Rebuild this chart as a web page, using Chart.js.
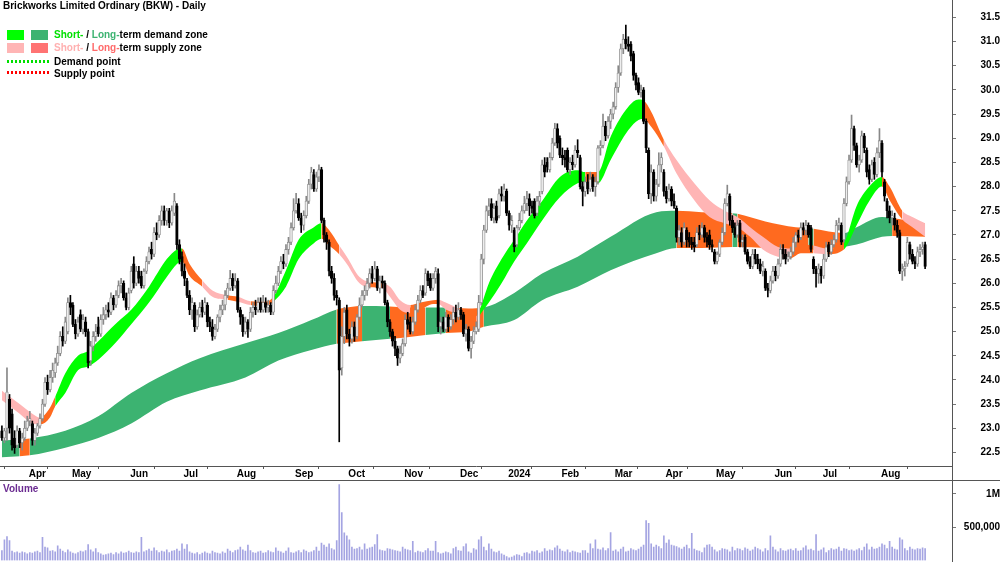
<!DOCTYPE html>
<html>
<head>
<meta charset="utf-8">
<script src="https://cdn.jsdelivr.net/npm/chart.js@4.4.1/dist/chart.umd.min.js"></script>
<style>
  body { margin: 0; background: #fff; }
  #wrap { position: relative; width: 1000px; height: 562px; overflow: hidden; font-family: "Liberation Sans", Arial, sans-serif; }
  .abs { position: absolute; }
  .t { position: absolute; font-size: 10px; font-weight: bold; line-height: 12px; white-space: nowrap; color: #000; }
  .box { position: absolute; width: 17px; height: 10px; }
  .dots { position: absolute; left: 7px; width: 42px; height: 3px; }
</style>
</head>
<body>
<div id="wrap">
  <div class="abs" style="left:0;top:0;width:1000px;height:481px"><canvas id="price" width="1000" height="481"></canvas></div>
  <div class="abs" style="left:0;top:482px;width:1000px;height:80px"><canvas id="vol" width="1000" height="80"></canvas></div>
  <div class="abs" style="left:0;top:480px;width:1000px;height:1px;background:#555"></div>
  <div class="abs" style="left:952px;top:0;width:1px;height:562px;background:#555"></div>

  <div class="t" style="left:3px;top:0px">Brickworks Limited Ordinary (BKW) - Daily</div>
  <div class="box" style="left:7px;top:30px;background:#00ff00"></div>
  <div class="box" style="left:31px;top:30px;background:#3cb371"></div>
  <div class="t" style="left:54px;top:29px"><span style="color:#00e000">Short-</span> / <span style="color:#3cb371">Long-</span>term demand zone</div>
  <div class="box" style="left:7px;top:43px;background:#ffb5b5"></div>
  <div class="box" style="left:31px;top:43px;background:#ff7373"></div>
  <div class="t" style="left:54px;top:42px"><span style="color:#ffb0b0">Short-</span> / <span style="color:#ff6a6a">Long-</span>term supply zone</div>
  <div class="dots" style="top:60px;background:repeating-linear-gradient(90deg,#00e000 0px,#00e000 2px,#fff 2px,#fff 4px)"></div>
  <div class="t" style="left:54px;top:56px">Demand point</div>
  <div class="dots" style="top:71px;background:repeating-linear-gradient(90deg,#ff0000 0px,#ff0000 2px,#fff 2px,#fff 4px)"></div>
  <div class="t" style="left:54px;top:68px">Supply point</div>
  <div class="t" style="left:3px;top:483px;color:#6b2c91">Volume</div>
</div>

<script>
// daily candles, 20 Mar 2023 .. 27 Aug 2024 (trading days)
const open = [
  22.95,22.8,23.0,23.6,23.3,22.8,22.65,22.95,22.7,22.8,
  23.0,23.15,23.1,22.75,22.9,23.05,23.2,23.5,23.95,23.8,
  24.05,24.15,24.35,24.55,24.9,24.8,25.0,25.6,25.55,25.15,
  24.95,25.35,25.05,25.2,25.0,24.4,24.7,24.9,25.1,24.95,
  25.25,25.35,25.45,25.4,25.7,25.55,25.75,25.95,26.0,25.7,
  25.5,25.85,26.4,26.0,26.25,26.15,25.95,26.25,26.45,26.7,
  26.6,27.05,27.0,27.3,27.5,27.3,27.5,27.25,27.45,27.6,
  26.8,26.55,26.25,26.05,25.75,25.45,25.55,25.1,25.35,25.5,
  25.4,25.55,25.2,25.1,24.9,25.05,25.3,25.45,25.55,25.75,
  25.9,26.1,25.95,26.05,25.45,25.3,25.0,25.2,25.05,25.4,
  25.5,25.45,25.6,25.45,25.6,25.5,25.55,25.4,25.85,26.0,
  26.25,26.45,26.4,26.7,26.85,27.15,27.5,27.65,27.35,27.2,
  27.4,27.7,28.05,28.25,27.95,28.2,28.35,27.3,27.0,26.85,
  26.25,26.1,25.75,25.65,24.25,24.9,25.45,24.95,24.85,25.1,
  24.9,25.3,25.55,25.75,25.85,26.0,26.2,26.1,26.3,25.9,
  26.05,26.0,25.6,25.2,25.0,24.8,24.65,24.45,24.55,24.75,
  25.25,25.2,25.0,25.2,25.45,25.65,25.85,25.8,26.2,26.1,
  25.9,26.1,26.2,25.1,25.2,25.05,25.3,25.1,25.25,25.4,
  25.3,25.45,25.35,24.95,25.05,24.65,24.8,25.0,25.05,25.6,
  26.5,27.1,27.5,27.65,27.35,27.6,27.4,27.85,27.8,27.9,
  27.45,27.2,27.1,26.8,27.15,27.3,27.5,27.65,27.75,27.6,
  27.7,27.45,27.7,27.9,28.45,28.5,28.35,28.6,28.9,29.2,
  29.0,28.65,28.6,28.75,28.35,28.5,28.45,28.75,28.6,28.0,
  27.9,28.1,27.95,28.2,28.0,28.1,28.8,28.85,29.25,29.05,
  29.35,29.5,29.65,30.05,30.35,30.85,31.05,30.95,30.95,30.75,
  30.3,30.15,29.95,30.0,29.35,28.75,27.85,28.3,27.8,28.05,
  28.45,28.3,27.9,27.75,27.95,27.7,27.55,26.95,27.05,26.85,
  27.1,26.95,26.85,26.85,26.8,27.05,27.0,27.15,26.95,27.0,
  26.8,26.65,26.45,26.6,26.85,27.05,27.65,27.8,27.3,27.15,
  27.0,27.25,26.85,26.95,26.65,26.45,26.35,26.6,26.5,26.4,
  26.25,26.25,25.9,25.85,26.05,26.25,26.15,26.4,26.7,26.6,
  26.5,26.55,26.65,26.85,27.0,26.95,27.15,27.1,27.2,27.15,
  26.5,26.3,26.2,26.3,26.15,26.5,26.8,26.65,26.8,26.9,
  27.2,27.2,26.9,27.65,28.1,28.55,29.2,28.85,28.45,28.55,
  29.05,28.75,28.35,28.15,28.5,28.25,28.7,28.9,28.1,27.7,
  27.5,27.35,27.35,27.2,27.05,26.25,26.3,26.4,26.8,26.6,
  26.45,26.4,26.65,26.7,26.8
];
const high = [
  23.05,23.0,24.25,23.7,23.4,22.95,23.05,23.0,22.9,23.15,
  23.25,23.35,23.15,23.0,23.1,23.3,23.6,24.05,24.1,24.2,
  24.35,24.45,24.7,25.0,25.1,25.3,25.7,25.75,25.6,25.25,
  25.3,25.45,25.35,25.3,25.05,24.8,25.0,25.15,25.3,25.35,
  25.5,25.55,25.6,25.8,25.75,25.85,26.05,26.1,26.05,25.8,
  25.9,26.35,26.55,26.35,26.35,26.25,26.3,26.55,26.75,26.85,
  27.15,27.25,27.4,27.6,27.6,27.55,27.55,27.6,27.86,27.65,
  26.9,26.65,26.4,26.1,25.85,25.7,25.6,25.45,25.6,25.65,
  25.7,25.6,25.3,25.25,25.15,25.35,25.55,25.65,25.85,26.0,
  26.27,26.2,26.2,26.1,25.5,25.35,25.3,25.25,25.5,25.6,
  25.65,25.7,25.7,25.75,25.7,25.65,25.6,25.95,26.15,26.35,
  26.55,26.6,26.8,26.95,27.25,27.75,27.86,27.75,27.45,27.5,
  27.8,28.15,28.4,28.35,28.3,28.45,28.4,27.35,27.05,26.9,
  26.35,26.2,25.85,25.7,25.1,25.5,25.55,25.05,25.2,25.2,
  25.35,25.7,25.85,25.95,26.1,26.3,26.35,26.45,26.35,26.15,
  26.15,26.05,25.65,25.25,25.05,24.9,24.7,24.7,24.85,25.35,
  25.4,25.3,25.3,25.55,25.75,25.95,25.95,26.3,26.25,26.2,
  26.2,26.33,26.3,25.3,25.3,25.4,25.35,25.35,25.5,25.55,
  25.6,25.5,25.4,25.15,25.1,24.9,25.1,25.2,25.75,26.6,
  27.2,27.6,27.75,27.75,27.65,27.7,27.95,28.0,28.05,27.95,
  27.5,27.4,27.15,27.2,27.45,27.6,27.8,27.9,27.85,27.7,
  27.75,27.8,27.9,28.55,28.6,28.6,28.7,29.0,29.31,29.3,
  29.05,28.8,28.75,28.8,28.6,28.65,28.85,28.97,28.65,28.1,
  28.2,28.25,28.3,28.25,28.2,28.85,28.95,29.5,29.35,29.45,
  29.6,29.75,30.15,30.5,30.95,31.15,31.34,31.1,31.0,30.8,
  30.35,30.25,30.1,30.05,29.4,28.8,28.45,28.35,28.15,28.7,
  28.7,28.35,28.0,28.05,28.0,27.85,27.6,27.2,27.15,27.25,
  27.15,27.05,26.95,26.95,27.15,27.2,27.25,27.2,27.05,27.1,
  26.9,26.7,26.65,26.9,27.15,27.75,28.03,27.85,27.4,27.25,
  27.3,27.3,27.0,27.0,26.7,26.55,26.7,26.7,26.6,26.5,
  26.45,26.3,26.0,26.15,26.35,26.35,26.5,26.8,26.8,26.7,
  26.65,26.75,26.95,27.05,27.1,27.25,27.25,27.3,27.25,27.2,
  26.55,26.35,26.4,26.35,26.6,26.85,26.85,26.9,27.0,27.3,
  27.35,27.25,27.75,28.2,28.65,29.48,29.25,28.9,28.65,29.15,
  29.1,28.8,28.45,28.55,28.6,28.8,29.2,28.95,28.15,27.75,
  27.6,27.5,27.45,27.3,27.1,26.4,26.45,26.95,26.85,26.7,
  26.55,26.75,26.8,26.85,26.85
];
const low = [
  22.75,22.7,22.75,22.9,22.55,22.48,22.6,22.6,22.55,22.75,
  22.95,23.05,22.65,22.65,22.85,23.0,23.15,23.45,23.7,23.75,
  23.95,24.05,24.3,24.5,24.7,24.75,24.95,25.35,25.1,24.85,
  24.9,25.0,24.95,24.9,24.25,24.3,24.6,24.8,24.9,24.9,
  25.15,25.25,25.3,25.35,25.45,25.5,25.7,25.8,25.65,25.45,
  25.45,25.8,25.9,25.95,26.0,25.9,25.9,26.2,26.4,26.5,
  26.55,26.9,26.95,27.2,27.2,27.2,27.15,27.2,27.4,26.7,
  26.4,26.15,25.95,25.7,25.35,25.25,25.0,25.05,25.3,25.3,
  25.35,25.1,25.0,24.82,24.85,25.0,25.2,25.35,25.45,25.7,
  25.85,25.85,25.9,25.4,25.15,24.9,24.95,24.88,25.0,25.3,
  25.35,25.4,25.4,25.4,25.4,25.4,25.35,25.35,25.8,25.95,
  26.2,26.3,26.35,26.6,26.8,27.1,27.45,27.3,27.05,27.1,
  27.35,27.65,27.95,27.9,27.9,28.1,27.25,26.85,26.7,26.15,
  26.0,25.65,25.55,22.72,24.1,24.75,24.85,24.7,24.76,24.8,
  24.85,25.25,25.5,25.65,25.75,25.9,26.0,26.05,25.85,25.8,
  25.9,25.55,25.1,24.9,24.7,24.5,24.3,24.35,24.5,24.7,
  25.05,24.95,24.95,25.15,25.4,25.6,25.7,25.75,25.95,25.85,
  25.85,26.0,25.0,24.95,25.0,25.0,25.0,25.05,25.15,25.2,
  25.25,25.25,24.9,24.8,24.6,24.45,24.75,24.95,25.0,25.55,
  26.4,27.05,27.4,27.3,27.25,27.25,27.35,27.7,27.7,27.4,
  27.1,27.05,26.65,26.75,27.1,27.25,27.45,27.5,27.4,27.45,
  27.35,27.4,27.6,27.85,28.2,28.3,28.3,28.55,28.85,28.8,
  28.6,28.45,28.4,28.3,28.25,28.35,28.4,28.6,27.95,27.6,
  27.8,27.85,27.9,27.9,27.8,28.05,28.65,28.8,28.95,29.0,
  29.2,29.4,29.6,29.95,30.3,30.75,30.85,30.8,30.6,30.2,
  30.0,29.9,29.85,29.3,28.7,27.75,27.65,27.7,27.7,28.0,
  28.3,27.8,27.66,27.7,27.6,27.55,26.85,26.8,26.75,26.8,
  26.75,26.75,26.7,26.65,26.75,26.9,26.95,26.85,26.75,26.7,
  26.65,26.4,26.4,26.55,26.8,27.0,27.6,27.2,27.05,26.95,
  26.95,26.75,26.75,26.6,26.4,26.3,26.3,26.4,26.3,26.2,
  26.15,25.85,25.72,25.8,26.0,26.05,26.1,26.35,26.5,26.4,
  26.45,26.5,26.6,26.75,26.85,26.9,27.0,27.0,26.95,26.65,
  26.2,25.92,26.0,26.0,26.1,26.45,26.55,26.6,26.75,26.85,
  27.1,26.8,26.85,27.6,28.05,28.5,28.75,28.4,28.3,28.5,
  28.7,28.2,28.05,28.1,28.15,28.2,28.6,28.2,27.7,27.35,
  27.25,27.2,27.1,26.95,26.2,26.06,26.15,26.35,26.5,26.4,
  26.3,26.35,26.55,26.6,26.3
];
const close = [
  22.8,22.95,23.75,23.0,22.65,22.6,22.95,22.7,22.8,23.0,
  23.15,23.2,22.75,22.9,23.05,23.2,23.5,23.95,23.8,24.05,
  24.2,24.35,24.55,24.9,24.8,25.2,25.6,25.5,25.15,24.95,
  25.2,25.05,25.25,25.0,24.35,24.7,24.9,25.0,24.95,25.25,
  25.35,25.45,25.4,25.7,25.55,25.75,25.95,26.0,25.7,25.5,
  25.8,26.25,26.0,26.25,26.1,25.95,26.25,26.45,26.65,26.6,
  27.05,27.0,27.3,27.5,27.3,27.5,27.25,27.5,27.7,26.8,
  26.5,26.25,26.1,25.75,25.45,25.6,25.1,25.35,25.5,25.4,
  25.6,25.2,25.1,24.9,25.05,25.3,25.45,25.55,25.75,25.9,
  26.1,25.95,26.05,25.45,25.3,25.0,25.2,25.05,25.4,25.5,
  25.45,25.6,25.45,25.6,25.5,25.55,25.4,25.85,26.0,26.25,
  26.45,26.4,26.7,26.85,27.15,27.5,27.65,27.35,27.2,27.4,
  27.7,28.05,28.3,27.95,28.2,28.35,27.3,27.0,26.85,26.25,
  26.1,25.75,25.7,24.2,24.9,25.4,24.95,24.85,25.1,24.9,
  25.3,25.55,25.75,25.85,26.0,26.2,26.1,26.3,25.9,26.05,
  26.0,25.6,25.2,25.0,24.8,24.65,24.45,24.55,24.75,25.25,
  25.15,25.0,25.2,25.45,25.65,25.85,25.75,26.2,26.05,25.9,
  26.1,26.25,25.1,25.2,25.05,25.3,25.1,25.25,25.4,25.3,
  25.45,25.35,24.95,25.05,24.65,24.8,25.0,25.1,25.6,26.5,
  27.1,27.5,27.6,27.35,27.55,27.3,27.85,27.8,27.95,27.45,
  27.2,27.3,26.75,27.15,27.3,27.5,27.65,27.75,27.6,27.55,
  27.4,27.7,27.8,28.45,28.3,28.4,28.6,28.9,29.2,28.9,
  28.65,28.6,28.55,28.35,28.5,28.45,28.75,28.7,28.0,27.9,
  28.1,27.95,28.15,28.0,28.1,28.8,28.85,29.25,29.05,29.35,
  29.5,29.65,30.05,30.35,30.85,31.05,30.95,30.9,30.7,30.3,
  30.1,29.95,30.0,29.35,28.8,27.85,28.3,27.8,28.05,28.45,
  28.6,27.9,27.75,27.95,27.7,27.6,26.95,27.1,26.85,27.15,
  26.9,26.85,26.8,26.75,27.05,27.0,27.15,26.95,26.85,26.8,
  26.75,26.45,26.6,26.85,27.05,27.65,27.85,27.3,27.15,27.0,
  27.2,26.85,26.9,26.65,26.45,26.35,26.6,26.5,26.4,26.25,
  26.35,25.9,25.85,26.05,26.25,26.15,26.4,26.7,26.6,26.5,
  26.55,26.65,26.85,27.0,26.95,27.15,27.1,27.2,27.0,26.7,
  26.3,26.2,26.3,26.15,26.5,26.75,26.65,26.8,26.9,27.2,
  27.25,26.85,27.65,28.1,28.55,29.2,28.85,28.45,28.55,29.05,
  28.8,28.3,28.15,28.45,28.25,28.7,28.95,28.3,27.8,27.5,
  27.35,27.4,27.2,27.05,26.25,26.3,26.35,26.85,26.6,26.45,
  26.4,26.65,26.7,26.75,26.35
];
// volume in thousands of shares
const volumeK = [
  150,310,360,300,140,120,130,110,130,120,
  100,120,110,130,140,120,350,200,190,140,
  150,130,220,170,140,120,160,130,110,100,
  120,140,130,150,240,160,130,180,120,100,
  80,90,100,110,90,120,100,130,110,120,
  140,120,110,130,120,350,130,150,170,140,
  190,150,120,140,130,160,120,140,150,170,
  140,250,170,240,130,110,100,120,90,110,
  130,110,100,140,120,110,100,130,110,170,
  140,120,150,160,200,160,140,230,150,120,
  110,130,140,110,120,150,130,120,190,140,
  130,110,140,190,120,110,130,150,120,160,
  140,120,130,150,200,140,260,230,200,250,
  180,160,300,1140,720,415,370,310,200,170,
  180,200,160,250,170,190,200,240,390,160,
  150,140,180,170,160,150,140,130,200,170,
  160,150,290,120,140,130,120,150,180,140,
  140,290,120,100,110,130,120,100,180,200,
  150,140,210,250,130,110,180,160,310,360,
  200,150,250,170,130,120,140,100,80,60,
  40,50,70,90,80,60,110,120,100,140,
  130,150,110,130,180,140,160,150,190,220,
  170,140,130,160,120,140,130,120,110,150,
  150,110,250,180,310,170,160,190,150,180,
  420,140,160,130,170,200,130,140,180,160,
  150,170,200,230,600,560,250,200,230,210,
  180,370,260,310,230,220,210,190,170,200,
  230,180,410,170,150,140,120,190,230,240,
  200,160,130,150,180,170,160,130,200,150,
  180,170,150,190,170,140,160,200,180,160,
  130,180,150,370,200,160,130,180,150,140,
  160,170,150,180,140,150,190,220,160,170,
  150,390,140,160,190,120,150,180,160,170,
  200,140,180,170,150,160,140,160,180,150,
  200,250,160,200,170,180,200,250,230,180,
  290,200,170,160,340,310,180,150,200,170,
  160,180,170,190,180
];

// month starts (trading-day index) and their labels
const monthIdx = [10, 27, 50, 71, 92, 115, 136, 158, 180, 199, 220, 241, 261, 281, 304, 323, 346];
const monthLabels = ['Apr','May','Jun','Jul','Aug','Sep','Oct','Nov','Dec','2024','Feb','Mar','Apr','May','Jun','Jul','Aug'];
const priceTicks = [22.5,23,23.5,24,24.5,25,25.5,26,26.5,27,27.5,28,28.5,29,29.5,30,30.5,31,31.5];
const volTicks = [500000, 1000000];

// zones: sample day, upper edge, lower edge, zone from that day on
// d = demand, s = supply, c = price inside the zone
const shortIdx = [0,7,12,15,19,21,25,30,34,38,45,51,58,65,69,71,74,79,83,89,93,98,104,107,112,117,123,126,129,133,136,141,145,150,153,157,161,165,170,172,175,181,187,188,192,197,202,207,213,220,227,230,235,240,247,251,253,256,261,266,273,279,285,290,295,300,306,311,315,320,325,332,337,342,347,350,355,359,364];
const shortHi  = [23.78,23.5,23.3,23.22,23.43,23.65,24.14,24.5,24.6,24.8,25.17,25.45,25.93,26.5,26.7,26.72,26.4,26.06,25.85,25.75,25.72,25.63,25.62,25.72,26.27,26.9,27.16,27.24,27.1,26.78,26.55,26.13,26.03,26.0,25.93,25.65,25.55,25.6,25.65,25.66,25.6,25.45,25.32,25.4,26.0,26.5,26.9,27.3,27.7,28.2,28.34,28.3,28.3,29.03,29.65,29.8,29.78,29.55,28.97,28.55,28.07,27.72,27.5,27.37,27.16,26.96,26.75,26.72,26.8,26.78,26.72,26.85,27.6,28.0,28.2,28.0,27.5,27.37,27.24];
const shortLo  = [23.58,23.3,23.1,23.08,23.23,23.45,23.73,24.2,24.28,24.42,24.78,25.15,25.6,26.13,26.4,26.45,26.15,25.93,25.72,25.66,25.62,25.55,25.53,25.62,25.93,26.5,26.83,26.92,26.78,26.6,26.4,26.0,25.92,25.9,25.72,25.45,25.38,25.45,25.57,25.57,25.46,25.35,25.2,25.3,25.6,26.0,26.45,26.83,27.3,27.78,28.07,28.1,28.07,28.55,29.17,29.38,29.4,29.24,28.83,28.27,27.72,27.37,27.24,27.16,26.96,26.7,26.55,26.52,26.62,26.62,26.6,26.7,27.2,27.7,28.0,27.72,27.32,27.16,26.96];
const shortZone = ['s','s','s','c','c','d','d','d','d','d','d','d','d','d','d','c','c','s','s','c','s','c','c','d','d','d','d','c','c','s','s','s','c','s','s','s','c','c','c','s','s','c','s','d','d','d','d','d','d','d','d','c','d','d','d','d','c','c','s','s','s','s','s','s','s','s','s','c','c','s','c','d','d','d','c','c','s','s','s'];

const longIdx = [0,7,11,25,38,51,65,78,96,109,122,132,136,142,153,159,167,175,184,190,202,213,227,240,258,266,276,288,290,301,313,318,320,332,337,347,351,364];
const longHi  = [22.75,22.77,22.79,22.95,23.25,23.73,24.14,24.45,24.76,24.97,25.24,25.46,25.5,25.53,25.52,25.5,25.5,25.5,25.48,25.5,25.8,26.2,26.55,26.96,27.47,27.5,27.47,27.45,27.44,27.28,27.16,27.14,27.13,27.04,27.16,27.37,27.35,27.24];
const longLo  = [22.4,22.42,22.44,22.6,22.8,23.1,23.55,23.78,24.05,24.4,24.62,24.75,24.77,24.8,24.85,24.88,24.93,24.97,25.0,25.1,25.24,25.65,25.93,26.27,26.62,26.73,26.73,26.75,26.75,26.73,26.66,26.68,26.69,26.75,26.8,26.96,26.98,26.96];
const longZone = ['d','c','d','d','d','d','d','d','d','d','d','c','c','d','c','c','d','c','c','d','d','d','d','d','d','c','c','d','c','c','c','d','c','d','d','d','c','c'];

const FONT = "'Liberation Sans', Arial, sans-serif";
const xMin = -0.75, xMax = 374.6;
const days = close.map((c, i) => i);
const isUp = i => close[i] >= open[i];

const shortColors = { d: '#00ff00', s: '#ffb5b5', c: '#ff6a1f' };
const longColors  = { d: '#3cb371', s: '#ff7373', c: '#ff6a1f' };

function zoneSets(idx, hi, lo, zone, colors, order) {
  const common = { type: 'line', borderColor: 'transparent', borderWidth: 1, pointRadius: 0,
                   tension: 0.4, cubicInterpolationMode: 'monotone', order };
  return [
    Object.assign({}, common, {
      data: idx.map((x, k) => ({ x, y: hi[k] })),
      fill: '+1',
      backgroundColor: colors.d,
      segment: { backgroundColor: ctx => colors[zone[ctx.p0DataIndex]] }
    }),
    Object.assign({}, common, { data: idx.map((x, k) => ({ x, y: lo[k] })), fill: false })
  ];
}

function noPad(s) { s.paddingTop = 0; s.paddingBottom = 0; s.paddingLeft = 0; s.paddingRight = 0; }

new Chart(document.getElementById('price'), {
  type: 'bar',
  data: {
    datasets: [
      {
        type: 'bar',
        data: days.map(i => ({ x: i, y: [open[i], close[i]] })),
        backgroundColor: days.map(i => isUp(i) ? '#eeeeee' : '#000000'),
        borderColor: days.map(i => isUp(i) ? '#888888' : '#000000'),
        borderWidth: 0.8, borderSkipped: false,
        barThickness: 2.6, grouped: false, minBarLength: 1, order: 0
      },
      {
        type: 'bar',
        data: days.map(i => ({ x: i, y: [low[i], high[i]] })),
        backgroundColor: days.map(i => isUp(i) ? '#888888' : '#000000'),
        barThickness: 1, grouped: false, order: 1
      },
      ...zoneSets(shortIdx, shortHi, shortLo, shortZone, shortColors, 2),
      ...zoneSets(longIdx, longHi, longLo, longZone, longColors, 3)
    ]
  },
  options: {
    responsive: false, animation: false, devicePixelRatio: 1, events: [],
    layout: { padding: 0, autoPadding: false },
    plugins: { legend: { display: false }, tooltip: { enabled: false } },
    scales: {
      x: {
        type: 'linear', min: xMin, max: xMax, offset: false, position: 'bottom',
        afterBuildTicks: s => { s.ticks = monthIdx.map(v => ({ value: v - 0.5 })); },
        afterFit: s => { s.height = 15; noPad(s); },
        grid: { drawOnChartArea: false, drawTicks: true, tickLength: 3, color: '#555' },
        border: { display: true, color: '#555' },
        ticks: { autoSkip: false, maxRotation: 0, align: 'start', padding: -1, color: '#000',
                 font: { family: FONT, size: 10, weight: 'bold' },
                 callback: (v, i) => ' ' + monthLabels[i] }
      },
      y: {
        type: 'linear', position: 'right', min: 22.22, max: 31.86,
        afterBuildTicks: s => { s.ticks = priceTicks.map(v => ({ value: v })); },
        afterFit: s => { s.width = 48; noPad(s); },
        grid: { drawOnChartArea: false, tickLength: 4, color: '#777' },
        border: { display: true, color: '#555' },
        ticks: { crossAlign: 'far', padding: 22, color: '#000',
                 font: { family: FONT, size: 10, weight: 'bold' },
                 callback: v => Number(v).toFixed(1) }
      }
    }
  }
});

new Chart(document.getElementById('vol'), {
  type: 'bar',
  data: {
    datasets: [{
      data: days.map(i => ({ x: i, y: volumeK[i] * 1000 })),
      backgroundColor: '#a4a4e2', barThickness: 1, grouped: false
    }]
  },
  options: {
    responsive: false, animation: false, devicePixelRatio: 1, events: [],
    layout: { padding: { top: 0, left: 0, right: 0, bottom: 1.5 }, autoPadding: false },
    plugins: { legend: { display: false }, tooltip: { enabled: false } },
    scales: {
      x: { type: 'linear', min: xMin, max: xMax, offset: false, display: false },
      y: {
        type: 'linear', position: 'right', min: 0, max: 1180000,
        afterBuildTicks: s => { s.ticks = volTicks.map(v => ({ value: v })); },
        afterFit: s => { s.width = 48; noPad(s); },
        grid: { drawOnChartArea: false, tickLength: 4, color: '#777' },
        border: { display: true, color: '#555' },
        ticks: { crossAlign: 'far', padding: 6, color: '#000',
                 font: { family: FONT, size: 10, weight: 'bold' },
                 callback: v => v >= 1000000 ? (v / 1000000) + 'M' : v.toLocaleString('en-US') }
      }
    }
  }
});
</script>
</body>
</html>
